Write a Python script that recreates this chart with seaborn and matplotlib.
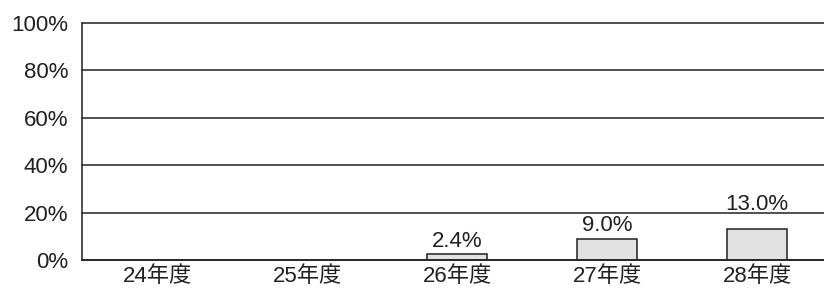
import matplotlib
matplotlib.use("Agg")
import matplotlib.pyplot as plt
import seaborn as sns
import pandas as pd

years = ["24年度", "25年度", "26年度", "27年度", "28年度"]
rates = [0, 0, 2.4, 9.0, 13.0]
low_labels = ["", "", "2.4%", "9.0%", ""]
high_labels = ["", "", "", "", "13.0%"]
y_ticks = [0, 20, 40, 60, 80, 100]

ink = "#231f20"
fs = 16

sns.set_style("white")
plt.rcParams["font.family"] = ["Liberation Sans", "Noto Sans CJK JP", "DejaVu Sans"]

df = pd.DataFrame({"year": years, "rate": rates})

fig = plt.figure(figsize=(8.24, 2.89), dpi=100)
ax = fig.add_axes([82 / 824, 29 / 289, 750 / 824, 237 / 289])

sns.barplot(data=df, x="year", y="rate", color="#e2e2e2", edgecolor=ink,
            linewidth=1.1, width=0.4, saturation=1, ax=ax)

# no outline for empty bars
for patch, v in zip(ax.patches, rates):
    if v == 0:
        patch.set_visible(False)

ax.bar_label(ax.containers[0], labels=low_labels, padding=2, fontsize=fs, color=ink)
# the 13.0% label sits above the 20% gridline
ax.bar_label(ax.containers[0], labels=high_labels, padding=10, fontsize=fs, color=ink)

ax.set_ylim(0, 100)
ax.set_xlim(-0.5, len(years) - 0.5)
ax.set_yticks(y_ticks)
ax.set_yticklabels([f"{t}%" for t in y_ticks], fontsize=fs, color=ink)
ax.set_xticklabels(years, fontsize=fs, color=ink)
ax.set_xlabel("")
ax.set_ylabel("")

ax.yaxis.grid(True, color=ink, linewidth=1.1)
for line in ax.get_ygridlines():
    line.set_clip_on(False)
ax.set_axisbelow(True)
ax.tick_params(axis="y", which="major", length=0, pad=10)
ax.tick_params(axis="x", which="major", length=0, pad=4)
ax.set_xticks([i + 0.5 for i in range(len(years) - 1)], minor=True)
ax.tick_params(axis="x", which="minor", direction="in", length=5, width=1, color=ink)

for side in ["top", "right"]:
    ax.spines[side].set_visible(False)
for side in ["left", "bottom"]:
    ax.spines[side].set_color(ink)
    ax.spines[side].set_linewidth(1.1)

fig.savefig("out.png", dpi=100)
